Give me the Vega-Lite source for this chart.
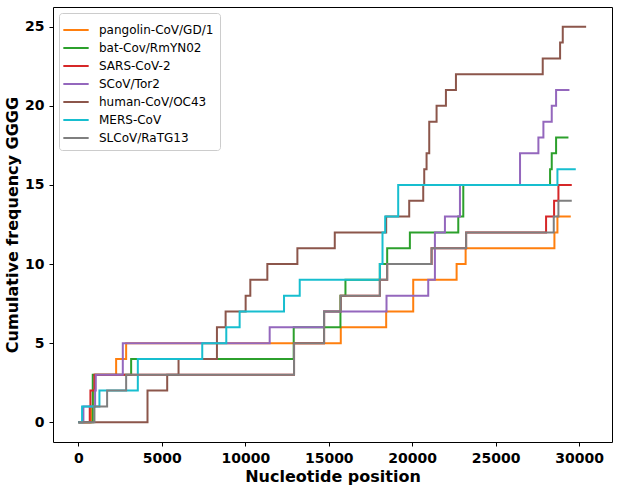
{
  "$schema": "https://vega.github.io/schema/vega-lite/v6.json",
  "width": 559,
  "height": 435,
  "autosize": {"type": "none"},
  "padding": {"left": 53, "top": 7, "right": 5, "bottom": 47},
  "background": "white",
  "config": {
    "view": {"stroke": "black", "strokeWidth": 1},
    "axis": {
      "grid": false,
      "domain": false,
      "tickColor": "black",
      "tickSize": 4,
      "labelFont": "DejaVu Sans",
      "labelFontWeight": "bold",
      "labelFontSize": 14,
      "labelColor": "black",
      "labelPadding": 5,
      "titleFont": "DejaVu Sans",
      "titleFontWeight": "bold",
      "titleFontSize": 16,
      "titleColor": "black"
    }
  },
  "data": {
    "values": [
      {"s": "pangolin-CoV/GD/1", "x": 0, "y": 0},
      {"s": "pangolin-CoV/GD/1", "x": 760, "y": 1},
      {"s": "pangolin-CoV/GD/1", "x": 880, "y": 2},
      {"s": "pangolin-CoV/GD/1", "x": 1000, "y": 3},
      {"s": "pangolin-CoV/GD/1", "x": 2260, "y": 4},
      {"s": "pangolin-CoV/GD/1", "x": 2860, "y": 5},
      {"s": "pangolin-CoV/GD/1", "x": 15720, "y": 6},
      {"s": "pangolin-CoV/GD/1", "x": 18440, "y": 7},
      {"s": "pangolin-CoV/GD/1", "x": 20060, "y": 9},
      {"s": "pangolin-CoV/GD/1", "x": 22660, "y": 10},
      {"s": "pangolin-CoV/GD/1", "x": 23200, "y": 11},
      {"s": "pangolin-CoV/GD/1", "x": 28520, "y": 12},
      {"s": "pangolin-CoV/GD/1", "x": 28700, "y": 13},
      {"s": "pangolin-CoV/GD/1", "x": 29500, "y": 13},

      {"s": "bat-Cov/RmYN02", "x": 0, "y": 0},
      {"s": "bat-Cov/RmYN02", "x": 860, "y": 3},
      {"s": "bat-Cov/RmYN02", "x": 3160, "y": 4},
      {"s": "bat-Cov/RmYN02", "x": 12900, "y": 6},
      {"s": "bat-Cov/RmYN02", "x": 15700, "y": 8},
      {"s": "bat-Cov/RmYN02", "x": 16000, "y": 9},
      {"s": "bat-Cov/RmYN02", "x": 18060, "y": 10},
      {"s": "bat-Cov/RmYN02", "x": 18500, "y": 11},
      {"s": "bat-Cov/RmYN02", "x": 19860, "y": 12},
      {"s": "bat-Cov/RmYN02", "x": 22760, "y": 13},
      {"s": "bat-Cov/RmYN02", "x": 23060, "y": 15},
      {"s": "bat-Cov/RmYN02", "x": 28260, "y": 16},
      {"s": "bat-Cov/RmYN02", "x": 28360, "y": 17},
      {"s": "bat-Cov/RmYN02", "x": 28620, "y": 18},
      {"s": "bat-Cov/RmYN02", "x": 29360, "y": 18},

      {"s": "SARS-CoV-2", "x": 0, "y": 0},
      {"s": "SARS-CoV-2", "x": 680, "y": 1},
      {"s": "SARS-CoV-2", "x": 720, "y": 2},
      {"s": "SARS-CoV-2", "x": 960, "y": 3},
      {"s": "SARS-CoV-2", "x": 12920, "y": 5},
      {"s": "SARS-CoV-2", "x": 14720, "y": 7},
      {"s": "SARS-CoV-2", "x": 15720, "y": 8},
      {"s": "SARS-CoV-2", "x": 18060, "y": 9},
      {"s": "SARS-CoV-2", "x": 18500, "y": 10},
      {"s": "SARS-CoV-2", "x": 21160, "y": 11},
      {"s": "SARS-CoV-2", "x": 23230, "y": 12},
      {"s": "SARS-CoV-2", "x": 28020, "y": 13},
      {"s": "SARS-CoV-2", "x": 28500, "y": 14},
      {"s": "SARS-CoV-2", "x": 28760, "y": 15},
      {"s": "SARS-CoV-2", "x": 29560, "y": 15},

      {"s": "SCoV/Tor2", "x": 0, "y": 0},
      {"s": "SCoV/Tor2", "x": 300, "y": 1},
      {"s": "SCoV/Tor2", "x": 1000, "y": 2},
      {"s": "SCoV/Tor2", "x": 1040, "y": 3},
      {"s": "SCoV/Tor2", "x": 2660, "y": 5},
      {"s": "SCoV/Tor2", "x": 11460, "y": 6},
      {"s": "SCoV/Tor2", "x": 14720, "y": 7},
      {"s": "SCoV/Tor2", "x": 18460, "y": 8},
      {"s": "SCoV/Tor2", "x": 20960, "y": 9},
      {"s": "SCoV/Tor2", "x": 21360, "y": 12},
      {"s": "SCoV/Tor2", "x": 21960, "y": 13},
      {"s": "SCoV/Tor2", "x": 22860, "y": 15},
      {"s": "SCoV/Tor2", "x": 26460, "y": 17},
      {"s": "SCoV/Tor2", "x": 27560, "y": 18},
      {"s": "SCoV/Tor2", "x": 27860, "y": 19},
      {"s": "SCoV/Tor2", "x": 28360, "y": 20},
      {"s": "SCoV/Tor2", "x": 28620, "y": 21},
      {"s": "SCoV/Tor2", "x": 29420, "y": 21},

      {"s": "human-CoV/OC43", "x": 0, "y": 0},
      {"s": "human-CoV/OC43", "x": 4140, "y": 2},
      {"s": "human-CoV/OC43", "x": 5320, "y": 3},
      {"s": "human-CoV/OC43", "x": 6000, "y": 4},
      {"s": "human-CoV/OC43", "x": 8300, "y": 6},
      {"s": "human-CoV/OC43", "x": 8820, "y": 7},
      {"s": "human-CoV/OC43", "x": 10020, "y": 8},
      {"s": "human-CoV/OC43", "x": 10300, "y": 9},
      {"s": "human-CoV/OC43", "x": 11320, "y": 10},
      {"s": "human-CoV/OC43", "x": 13120, "y": 11},
      {"s": "human-CoV/OC43", "x": 15360, "y": 12},
      {"s": "human-CoV/OC43", "x": 18440, "y": 13},
      {"s": "human-CoV/OC43", "x": 19820, "y": 14},
      {"s": "human-CoV/OC43", "x": 20660, "y": 15},
      {"s": "human-CoV/OC43", "x": 20720, "y": 16},
      {"s": "human-CoV/OC43", "x": 20860, "y": 17},
      {"s": "human-CoV/OC43", "x": 21020, "y": 19},
      {"s": "human-CoV/OC43", "x": 21460, "y": 20},
      {"s": "human-CoV/OC43", "x": 22020, "y": 21},
      {"s": "human-CoV/OC43", "x": 22620, "y": 22},
      {"s": "human-CoV/OC43", "x": 27820, "y": 23},
      {"s": "human-CoV/OC43", "x": 28860, "y": 24},
      {"s": "human-CoV/OC43", "x": 29020, "y": 25},
      {"s": "human-CoV/OC43", "x": 30420, "y": 25},

      {"s": "MERS-CoV", "x": 0, "y": 0},
      {"s": "MERS-CoV", "x": 220, "y": 1},
      {"s": "MERS-CoV", "x": 1260, "y": 2},
      {"s": "MERS-CoV", "x": 3560, "y": 4},
      {"s": "MERS-CoV", "x": 7420, "y": 5},
      {"s": "MERS-CoV", "x": 8860, "y": 6},
      {"s": "MERS-CoV", "x": 9660, "y": 7},
      {"s": "MERS-CoV", "x": 12320, "y": 8},
      {"s": "MERS-CoV", "x": 13260, "y": 9},
      {"s": "MERS-CoV", "x": 18060, "y": 10},
      {"s": "MERS-CoV", "x": 18220, "y": 12},
      {"s": "MERS-CoV", "x": 18380, "y": 13},
      {"s": "MERS-CoV", "x": 19160, "y": 15},
      {"s": "MERS-CoV", "x": 28700, "y": 16},
      {"s": "MERS-CoV", "x": 29800, "y": 16},

      {"s": "SLCoV/RaTG13", "x": 0, "y": 0},
      {"s": "SLCoV/RaTG13", "x": 960, "y": 1},
      {"s": "SLCoV/RaTG13", "x": 1720, "y": 2},
      {"s": "SLCoV/RaTG13", "x": 2860, "y": 3},
      {"s": "SLCoV/RaTG13", "x": 12920, "y": 5},
      {"s": "SLCoV/RaTG13", "x": 14720, "y": 7},
      {"s": "SLCoV/RaTG13", "x": 15720, "y": 8},
      {"s": "SLCoV/RaTG13", "x": 18060, "y": 9},
      {"s": "SLCoV/RaTG13", "x": 18500, "y": 10},
      {"s": "SLCoV/RaTG13", "x": 21160, "y": 11},
      {"s": "SLCoV/RaTG13", "x": 23230, "y": 12},
      {"s": "SLCoV/RaTG13", "x": 28480, "y": 13},
      {"s": "SLCoV/RaTG13", "x": 28760, "y": 14},
      {"s": "SLCoV/RaTG13", "x": 29560, "y": 14}
    ]
  },
  "mark": {"type": "line", "interpolate": "step-after", "strokeWidth": 2, "clip": true},
  "encoding": {
    "x": {
      "field": "x",
      "type": "quantitative",
      "scale": {"domain": [-1522, 31970], "nice": false, "zero": false},
      "axis": {"values": [0, 5000, 10000, 15000, 20000, 25000, 30000], "format": "d", "title": "Nucleotide position", "titlePadding": 3, "labelFlush": false}
    },
    "y": {
      "field": "y",
      "type": "quantitative",
      "scale": {"domain": [-1.25, 26.25], "nice": false, "zero": false},
      "axis": {"values": [0, 5, 10, 15, 20, 25], "title": "Cumulative frequency GGGG", "titlePadding": 4, "labelFlush": false}
    },
    "color": {
      "field": "s",
      "type": "nominal",
      "sort": null,
      "scale": {
        "domain": ["pangolin-CoV/GD/1", "bat-Cov/RmYN02", "SARS-CoV-2", "SCoV/Tor2", "human-CoV/OC43", "MERS-CoV", "SLCoV/RaTG13"],
        "range": ["#ff7f0e", "#2ca02c", "#d62728", "#9467bd", "#8c564b", "#17becf", "#7f7f7f"]
      },
      "legend": {
        "title": null,
        "orient": "none",
        "legendX": 6,
        "legendY": 6,
        "fillColor": "white",
        "strokeColor": "#cccccc",
        "cornerRadius": 3,
        "padding": 6,
        "symbolType": "M-1.3,0H1.3",
        "symbolSize": 380,
        "symbolStrokeWidth": 2,
        "rowPadding": 1,
        "labelOffset": 12,
        "labelFont": "DejaVu Sans",
        "labelFontSize": 12,
        "labelColor": "black",
        "labelLimit": 300
      }
    }
  }
}
